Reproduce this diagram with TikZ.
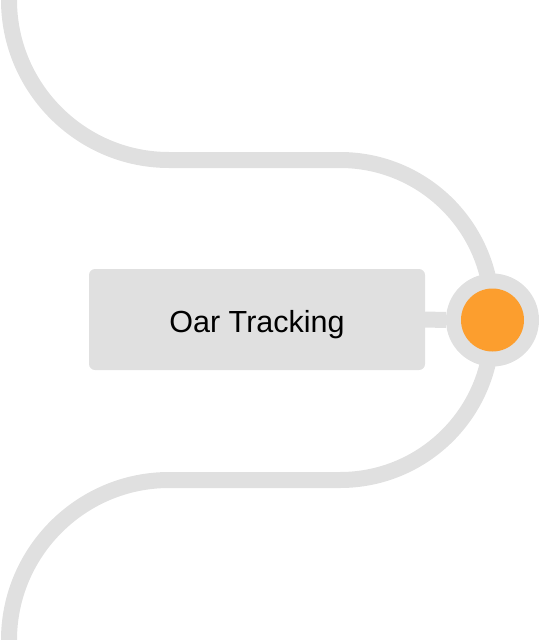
\documentclass[tikz,border=0pt]{standalone}
\usepackage{fontspec}
\setmainfont{Liberation Sans}
\usepackage{tikz}

\definecolor{railgray}{RGB}{224,224,224}
\definecolor{dotorange}{RGB}{252,158,46}

\begin{document}
\begin{tikzpicture}[x=1pt, y=-1pt, outer sep = 0pt]

\tikzstyle{track}=[draw=railgray, line width=16pt]
\tikzstyle{topicbox}=[fill=railgray, rectangle, rounded corners=6pt, minimum width=336pt, minimum height=101pt, text height=31.5pt, text depth=6.5pt, font=\fontsize{30.5}{36}\selectfont]
\tikzstyle{hubring}=[fill=railgray, circle, minimum size=93pt, inner sep=0pt]
\tikzstyle{hubdot}=[fill=dotorange, circle, minimum size=63pt, inner sep=0pt]

\useasboundingbox (0,0) rectangle (539,640);

\draw[track] (9,0) .. controls (9,88) and (81,160) .. (169,160) -- (340,160)
  .. controls (424,160) and (492,228) .. (492,312) -- (492,328)
  .. controls (492,412) and (424,480) .. (340,480) -- (169,480)
  .. controls (81,480) and (9,552) .. (9,640);

\node[topicbox] (topic) at (257,319.5) {Oar Tracking};
\node[hubring] (hub) at (492.5,320) {};
\node[hubdot] (dot) at (hub) {};
\draw[railgray, line width=16pt] (topic.east) -- (hub.west);
\end{tikzpicture}
\end{document}
